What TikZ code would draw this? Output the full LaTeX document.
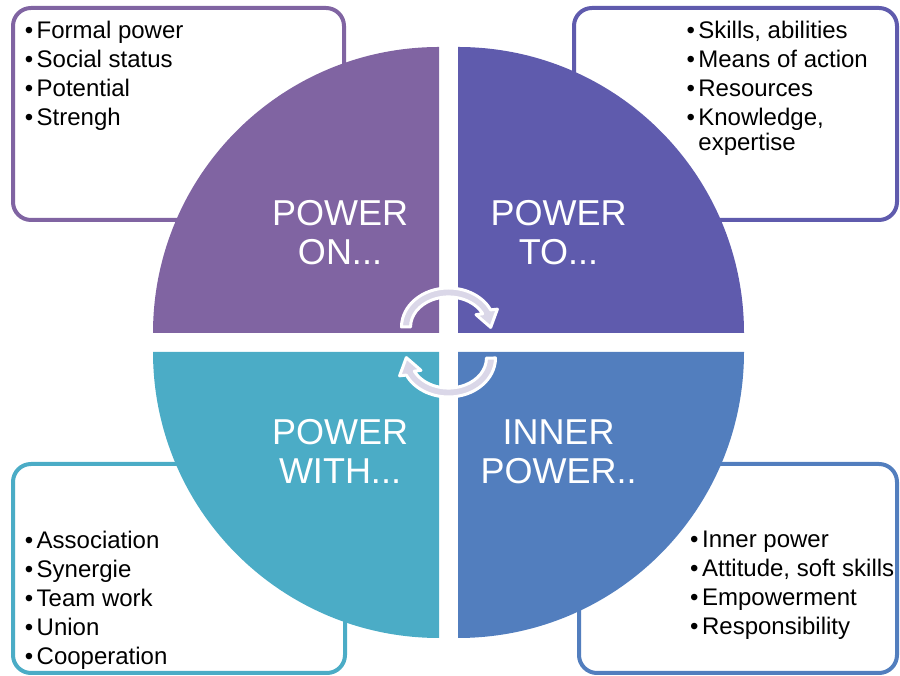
\documentclass[tikz,border=0pt]{standalone}
\usepackage{fontspec}
\setmainfont{Liberation Sans}
\definecolor{viola}{HTML}{8064A2}
\definecolor{indaco}{HTML}{5F5BAD}
\definecolor{ottanio}{HTML}{4BACC6}
\definecolor{azzurro}{HTML}{527EBE}
\definecolor{lilla}{HTML}{DAD7E8}
\newcommand{\puntino}{•\hspace{3.5pt}}
\begin{document}
\begin{tikzpicture}[x=1pt, y=1pt,
			riquadro/.style={line width=4pt, rounded corners=18pt, fill=white},
			titolo/.style={text=white, font=\fontsize{36}{39}\selectfont, align=center, inner sep=0pt},
			elenco/.style={font=\fontsize{24}{25}\selectfont, align=left, inner sep=0pt, anchor=north west},
			freccia/.style={fill=lilla, draw=white, line width=3pt, line join=round}]
			
			\useasboundingbox (0,0) rectangle (900,676);
			
			\def\R{286}      %% raggio dei settori
			\def\g{9.5}      %% mezza fessura tra i settori
			\def\cx{448.5}   %% centro del cerchio
			\def\cy{333.5}
			
			%% --- riquadri con gli elenchi (sotto il cerchio) ---
			\draw[riquadro, draw=viola]   (13,456) rectangle (344,668);
			\draw[riquadro, draw=indaco]  (574,456) rectangle (897,668);
			\draw[riquadro, draw=ottanio] (13,3) rectangle (345,212);
			\draw[riquadro, draw=azzurro] (579,3) rectangle (897,212);
			
			%% --- quattro settori del cerchio ---
			\fill[viola]   (\cx-\g,\cy+\g) -- ++(-\R,0) arc[start angle=180, end angle=90, radius=\R] -- cycle;
			\fill[indaco]  (\cx+\g,\cy+\g) -- ++(\R,0) arc[start angle=0, end angle=90, radius=\R] -- cycle;
			\fill[ottanio] (\cx-\g,\cy-\g) -- ++(-\R,0) arc[start angle=180, end angle=270, radius=\R] -- cycle;
			\fill[azzurro] (\cx+\g,\cy-\g) -- ++(\R,0) arc[start angle=0, end angle=-90, radius=\R] -- cycle;
			
			%% --- titoli dei settori ---
			\node[titolo] (on)    at (340,443.5)   {POWER\\ON...};
			\node[titolo] (to)    at (558.5,443.5) {POWER\\TO...};
			\node[titolo] (with)  at (340,224.5)   {POWER\\WITH...};
			\node[titolo] (inner) at (558.5,224.5) {INNER\\POWER..};
			
			%% --- elenchi ---
			\node[elenco] (lista-on) at (24.6,655.5) {\puntino Formal power\\[4pt]
				\puntino Social status\\[4pt] \puntino Potential\\[4pt] \puntino Strengh};
			\node[elenco] (lista-to) at (686.3,655.5) {\puntino Skills, abilities\\[4pt]
				\puntino Means of action\\[4pt] \puntino Resources\\[4pt]
				\puntino Knowledge,\\ \hphantom{\puntino}expertise};
			\node[elenco] (lista-with) at (24.6,144.9) {\puntino Association\\[4pt]
				\puntino Synergie\\[4pt] \puntino Team work\\[4pt] \puntino Union\\[4pt]
				\puntino Cooperation};
			\node[elenco] (lista-inner) at (690,144.9) {\puntino Inner power\\[4pt]
				\puntino Attitude, soft skills\\[4pt] \puntino Empowerment\\[4pt]
				\puntino Responsibility};
			
			%% --- frecce circolari al centro (la seconda ruotata di 180) ---
			\foreach \px/\py/\rot in {448.5/349/0, 448.5/318/180}{
				\begin{scope}[shift={(\px,\py)}, rotate=\rot]
					\filldraw[freccia] (-47,0) arc[start angle=180, end angle=26, x radius=47, y radius=39]
						-- (48.9,17.85) -- (42.2,-0.4) -- (27.5,12.35) -- (34.2,13.2)
						arc[start angle=26, end angle=180, x radius=38, y radius=30] -- cycle;
				\end{scope}
			}
			
		\end{tikzpicture}
\end{document}
